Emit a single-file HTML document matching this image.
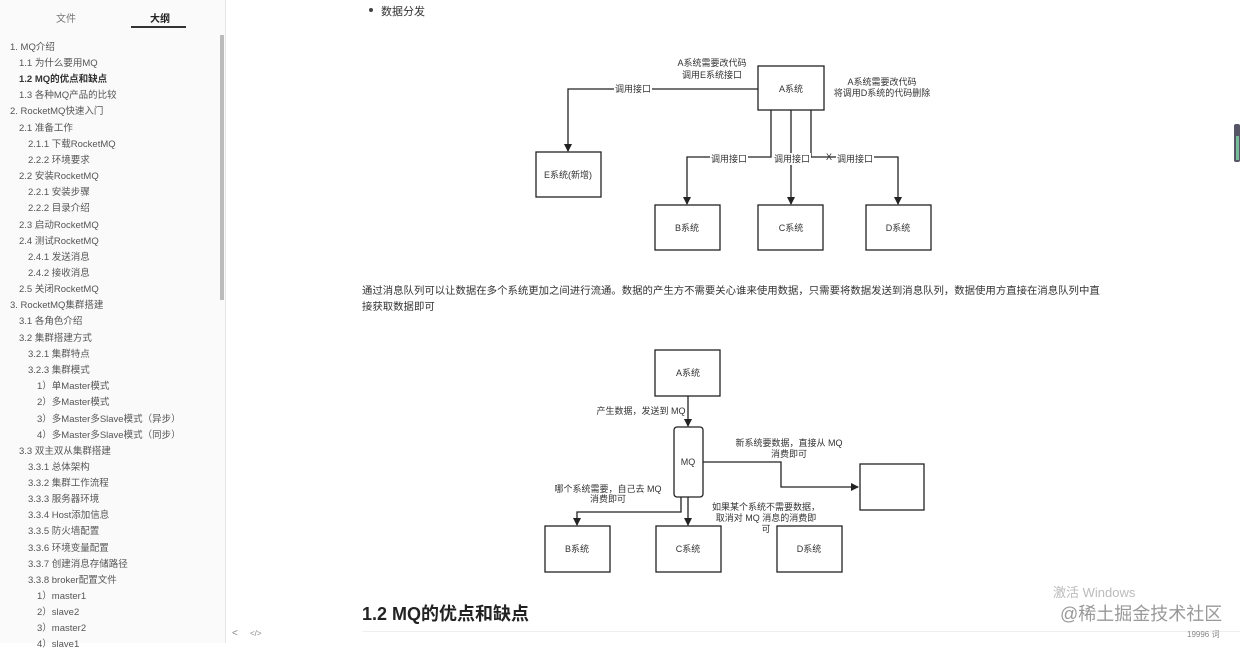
<!DOCTYPE html>
<html><head><meta charset="utf-8"><style>
body{margin:0;width:1240px;height:643px;overflow:hidden;background:#fff;font-family:"Liberation Sans","Noto Sans CJK SC",sans-serif;color:#333;position:relative}
.side{position:absolute;left:0;top:0;width:225px;height:643px;background:#fafafa;border-right:1px solid #e6e6e6}
.tab{position:absolute;top:10px;font-size:10px;color:#777}
.it{position:absolute;font-size:9.5px;color:#555;white-space:nowrap}
.t{position:absolute;white-space:nowrap}
svg text{font-family:"Liberation Sans","Noto Sans CJK SC",sans-serif;font-size:9px;fill:#333}
</style></head><body>
<div class="side">
<div class="tab" style="left:56px">文件</div>
<div class="tab" style="left:150px;color:#222;font-weight:bold">大纲</div>
<div style="position:absolute;left:131px;top:26px;width:55px;height:2px;background:#333"></div>
<div style="position:absolute;left:220px;top:35px;width:4px;height:265px;background:#bbb"></div>
<div class="it" style="left:10px;top:39px">1. MQ介绍</div>
<div class="it" style="left:19px;top:55px">1.1 为什么要用MQ</div>
<div class="it" style="left:19px;top:71px;font-weight:bold;color:#333">1.2 MQ的优点和缺点</div>
<div class="it" style="left:19px;top:87px">1.3 各种MQ产品的比较</div>
<div class="it" style="left:10px;top:103px">2. RocketMQ快速入门</div>
<div class="it" style="left:19px;top:120px">2.1 准备工作</div>
<div class="it" style="left:28px;top:136px">2.1.1 下载RocketMQ</div>
<div class="it" style="left:28px;top:152px">2.2.2 环境要求</div>
<div class="it" style="left:19px;top:168px">2.2 安装RocketMQ</div>
<div class="it" style="left:28px;top:184px">2.2.1 安装步骤</div>
<div class="it" style="left:28px;top:200px">2.2.2 目录介绍</div>
<div class="it" style="left:19px;top:217px">2.3 启动RocketMQ</div>
<div class="it" style="left:19px;top:233px">2.4 测试RocketMQ</div>
<div class="it" style="left:28px;top:249px">2.4.1 发送消息</div>
<div class="it" style="left:28px;top:265px">2.4.2 接收消息</div>
<div class="it" style="left:19px;top:281px">2.5 关闭RocketMQ</div>
<div class="it" style="left:10px;top:297px">3. RocketMQ集群搭建</div>
<div class="it" style="left:19px;top:313px">3.1 各角色介绍</div>
<div class="it" style="left:19px;top:330px">3.2 集群搭建方式</div>
<div class="it" style="left:28px;top:346px">3.2.1 集群特点</div>
<div class="it" style="left:28px;top:362px">3.2.3 集群模式</div>
<div class="it" style="left:37px;top:378px">1）单Master模式</div>
<div class="it" style="left:37px;top:394px">2）多Master模式</div>
<div class="it" style="left:37px;top:411px">3）多Master多Slave模式（异步）</div>
<div class="it" style="left:37px;top:427px">4）多Master多Slave模式（同步）</div>
<div class="it" style="left:19px;top:443px">3.3 双主双从集群搭建</div>
<div class="it" style="left:28px;top:459px">3.3.1 总体架构</div>
<div class="it" style="left:28px;top:475px">3.3.2 集群工作流程</div>
<div class="it" style="left:28px;top:491px">3.3.3 服务器环境</div>
<div class="it" style="left:28px;top:507px">3.3.4 Host添加信息</div>
<div class="it" style="left:28px;top:523px">3.3.5 防火墙配置</div>
<div class="it" style="left:28px;top:540px">3.3.6 环境变量配置</div>
<div class="it" style="left:28px;top:556px">3.3.7 创建消息存储路径</div>
<div class="it" style="left:28px;top:572px">3.3.8 broker配置文件</div>
<div class="it" style="left:37px;top:588px">1）master1</div>
<div class="it" style="left:37px;top:604px">2）slave2</div>
<div class="it" style="left:37px;top:620px">3）master2</div>
<div class="it" style="left:37px;top:636px">4）slave1</div>
</div>
<div class="t" style="left:232px;top:628px;font-size:10px;color:#888">&lt;</div>
<div class="t" style="left:250px;top:629px;font-size:8px;color:#888">&lt;/&gt;</div>

<div style="position:absolute;left:369px;top:8px;width:4px;height:4px;border-radius:50%;background:#444"></div>
<div class="t" style="left:381px;top:3px;font-size:11px">数据分发</div>

<div class="t" style="left:362px;top:282px;font-size:10.4px">通过消息队列可以让数据在多个系统更加之间进行流通。数据的产生方不需要关心谁来使用数据，只需要将数据发送到消息队列，数据使用方直接在消息队列中直</div>
<div class="t" style="left:362px;top:298px;font-size:10.4px">接获取数据即可</div>

<div class="t" style="left:362px;top:600px;font-size:18px;font-weight:bold;color:#222">1.2 MQ的优点和缺点</div>
<div style="position:absolute;left:363px;top:631px;width:877px;height:1px;background:#eee"></div>
<div class="t" style="left:1187px;top:629px;font-size:8px;color:#888">19996 词</div>
<div class="t" style="left:1053px;top:582px;font-size:13px;color:#bbb">激活 Windows</div>
<div class="t" style="left:1060px;top:600px;font-size:18px;color:#999">@稀土掘金技术社区</div>
<div style="position:absolute;left:1234px;top:124px;width:6px;height:38px;background:#556;border-radius:2px"></div>
<div style="position:absolute;left:1236px;top:136px;width:3px;height:24px;background:#7b9"></div>

<svg width="1240" height="643" style="position:absolute;left:0;top:0" >
<defs><marker id="a" markerWidth="8" markerHeight="8" refX="7" refY="4" orient="auto" markerUnits="userSpaceOnUse"><path d="M0,0L8,4L0,8z" fill="#222"/></marker></defs>
<g fill="#fff" stroke="#222" stroke-width="1.3">
<rect x="758" y="66" width="66" height="44"/>
<rect x="536" y="152" width="65" height="45"/>
<rect x="655" y="205" width="65" height="45"/>
<rect x="758" y="205" width="65" height="45"/>
<rect x="866" y="205" width="65" height="45"/>
<rect x="655" y="350" width="65" height="46"/>
<rect x="674" y="427" width="29" height="70" rx="3"/>
<rect x="860" y="464" width="64" height="46"/>
<rect x="545" y="526" width="65" height="46"/>
<rect x="656" y="526" width="65" height="46"/>
<rect x="777" y="526" width="65" height="46"/>
</g>
<g fill="none" stroke="#222" stroke-width="1.3">
<path d="M758,89H568V151" marker-end="url(#a)"/>
<path d="M771,110V157H687V204" marker-end="url(#a)"/>
<path d="M791,110V204" marker-end="url(#a)"/>
<path d="M811,110V157H898V204" marker-end="url(#a)"/>
<path d="M688,396V426" marker-end="url(#a)"/>
<path d="M703,462H781V487H858" marker-end="url(#a)"/>
<path d="M681,497V512H577V525" marker-end="url(#a)"/>
<path d="M688,497V525" marker-end="url(#a)"/>
</g>
<g fill="#fff">
<rect x="614" y="83" width="38" height="12"/>
<rect x="710" y="153" width="38" height="12"/>
<rect x="773" y="153" width="38" height="12"/>
<rect x="836" y="153" width="38" height="12"/>
</g>
<g text-anchor="middle">
<text x="791" y="92">A系统</text>
<text x="568" y="178">E系统(新增)</text>
<text x="687" y="231">B系统</text>
<text x="791" y="231">C系统</text>
<text x="898" y="231">D系统</text>
<text x="633" y="92">调用接口</text>
<text x="729" y="162">调用接口</text>
<text x="792" y="162">调用接口</text>
<text x="855" y="162">调用接口</text>
<text x="829" y="160">X</text>
<text x="712" y="66">A系统需要改代码</text>
<text x="712" y="78">调用E系统接口</text>
<text x="882" y="85">A系统需要改代码</text>
<text x="882" y="96">将调用D系统的代码删除</text>
<text x="688" y="376">A系统</text>
<text x="688" y="465">MQ</text>
<text x="641" y="414">产生数据，发送到 MQ</text>
<text x="789" y="446">新系统要数据，直接从 MQ</text>
<text x="789" y="457">消费即可</text>
<text x="608" y="492">哪个系统需要，自己去 MQ</text>
<text x="608" y="502">消费即可</text>
<text x="766" y="510">如果某个系统不需要数据，</text>
<text x="766" y="521">取消对 MQ 消息的消费即</text>
<text x="766" y="532">可</text>
<text x="577" y="552">B系统</text>
<text x="688" y="552">C系统</text>
<text x="809" y="552">D系统</text>
</g>
</svg>
</body></html>
